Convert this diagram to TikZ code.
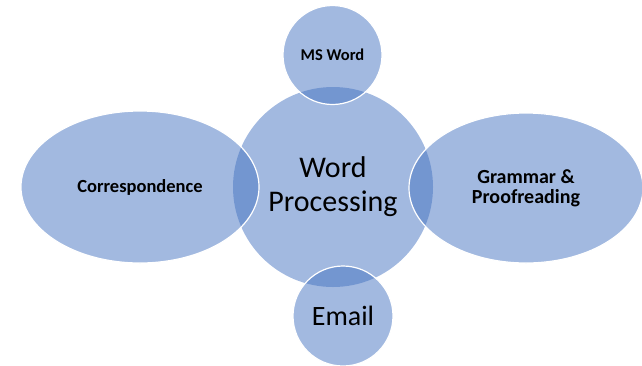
\documentclass[tikz,border=0pt]{standalone}
\usepackage{fontspec}
\setmainfont{Carlito}
\usetikzlibrary{shapes.geometric}
\definecolor{accentblue}{RGB}{69,115,193}
\tikzset{
  bubble/.style={ellipse, fill=accentblue, fill opacity=0.5, text opacity=1, inner sep=0pt, align=center},
  satellite/.style={bubble, draw=white, line width=1.2pt, font=\bfseries},
}
\begin{document}
\begin{tikzpicture}[x=1pt,y=-1pt]
  \useasboundingbox (0,0) rectangle (642,365);
  \clip (0,0) rectangle (642,365);
  % centre circle first, the others lie over it
  \node[bubble, minimum width=200pt, minimum height=200pt, font=\fontsize{30}{34}\selectfont] (wp) at (333,187) {Word\\Processing};
  \node[satellite, minimum width=99pt, minimum height=99pt, font=\bfseries\fontsize{16.5}{20}\selectfont] (msword) at (332.5,55) {MS Word};
  \node[satellite, minimum width=238pt, minimum height=152pt, font=\bfseries\fontsize{18.5}{20}\selectfont] (corr) at (140,187) {Correspondence};
  \node[satellite, minimum width=234pt, minimum height=150pt, font=\bfseries\fontsize{20}{20}\selectfont] (grammar) at (526,188) {Grammar \&\\Proofreading};
  \node[satellite, minimum width=100pt, minimum height=100pt, font=\fontsize{28}{34}\selectfont] (email) at (343,316) {Email};
\end{tikzpicture}
\end{document}
